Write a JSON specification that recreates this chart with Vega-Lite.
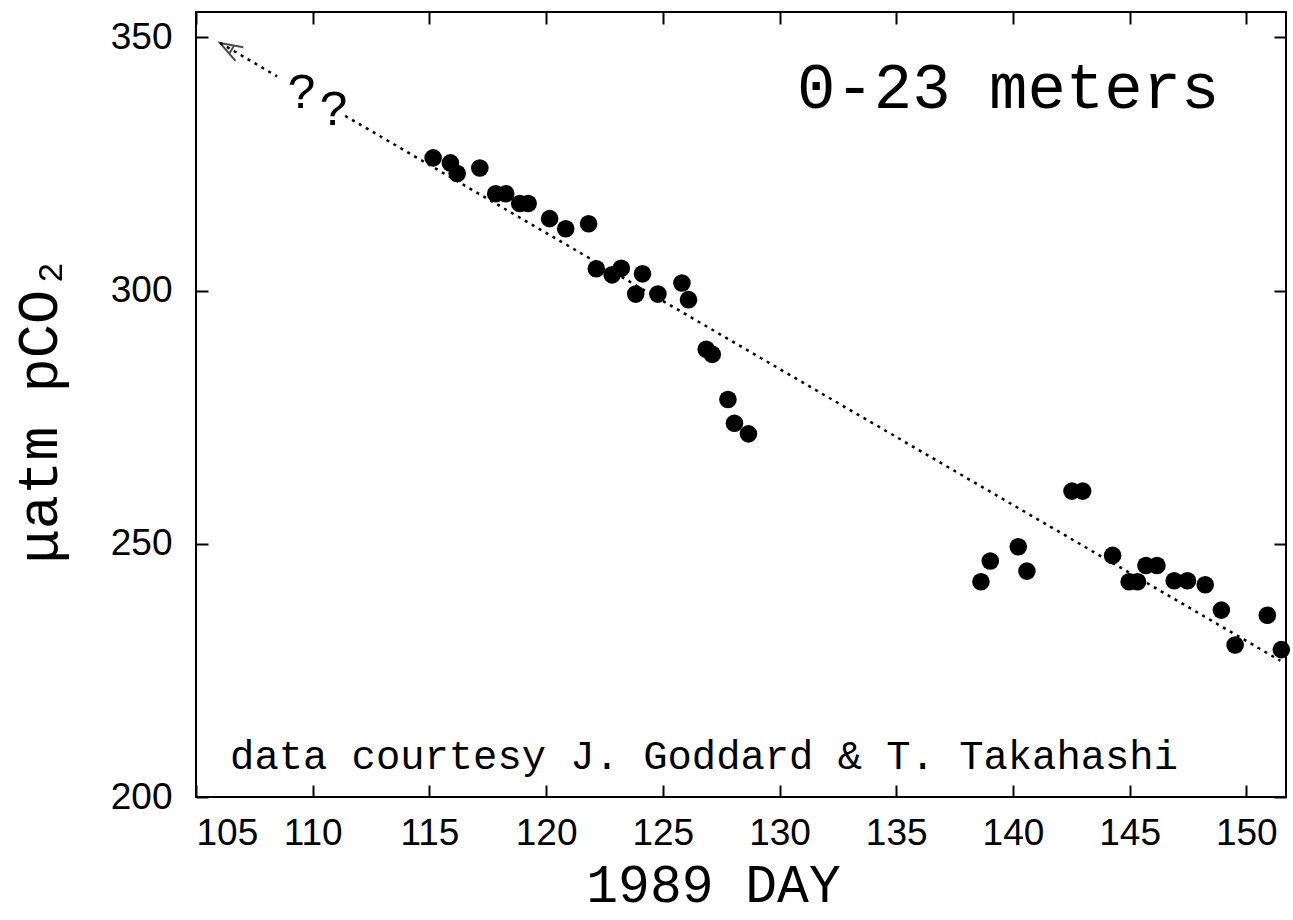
{
  "$schema": "https://vega.github.io/schema/vega-lite/v6.json",
  "width": 1090,
  "height": 785,
  "autosize": "none",
  "padding": {"left": 196, "top": 12, "right": 7, "bottom": 123},
  "background": "white",
  "config": {
    "view": {"stroke": "black", "strokeWidth": 2},
    "axis": {
      "domain": false,
      "grid": false,
      "tickColor": "black",
      "tickWidth": 2,
      "tickSize": -12,
      "labelColor": "black",
      "labelFont": "Liberation Sans",
      "labelFontSize": 37,
      "titleColor": "black",
      "titleFont": "Liberation Mono",
      "titleFontWeight": "normal"
    }
  },
  "datasets": {
    "obs": [
      {"day": 115.16, "pco2": 326.2}, {"day": 115.90, "pco2": 325.2}, {"day": 116.19, "pco2": 323.1},
      {"day": 117.16, "pco2": 324.2}, {"day": 117.84, "pco2": 319.1}, {"day": 118.27, "pco2": 319.1},
      {"day": 118.87, "pco2": 317.2}, {"day": 119.23, "pco2": 317.2}, {"day": 120.15, "pco2": 314.2},
      {"day": 120.84, "pco2": 312.2}, {"day": 121.82, "pco2": 313.2}, {"day": 122.15, "pco2": 304.3},
      {"day": 122.83, "pco2": 303.1}, {"day": 123.22, "pco2": 304.4}, {"day": 124.13, "pco2": 303.3},
      {"day": 123.84, "pco2": 299.3}, {"day": 124.79, "pco2": 299.3}, {"day": 125.82, "pco2": 301.5},
      {"day": 126.10, "pco2": 298.2}, {"day": 126.86, "pco2": 288.4}, {"day": 127.12, "pco2": 287.4},
      {"day": 127.79, "pco2": 278.5}, {"day": 128.07, "pco2": 273.8}, {"day": 128.67, "pco2": 271.7},
      {"day": 138.63, "pco2": 242.5}, {"day": 139.03, "pco2": 246.6}, {"day": 140.23, "pco2": 249.4},
      {"day": 140.60, "pco2": 244.6}, {"day": 142.53, "pco2": 260.4}, {"day": 142.99, "pco2": 260.4},
      {"day": 144.27, "pco2": 247.7}, {"day": 144.98, "pco2": 242.5}, {"day": 145.34, "pco2": 242.5},
      {"day": 145.70, "pco2": 245.7}, {"day": 146.17, "pco2": 245.7}, {"day": 146.91, "pco2": 242.7},
      {"day": 147.48, "pco2": 242.7}, {"day": 148.24, "pco2": 241.9}, {"day": 148.93, "pco2": 236.9},
      {"day": 149.52, "pco2": 230.0}, {"day": 150.90, "pco2": 235.9}, {"day": 151.50, "pco2": 229.1}
    ],
    "trend": [
      {"seg": 1, "day": 106.03, "pco2": 348.9},
      {"seg": 1, "day": 108.47, "pco2": 342.3},
      {"seg": 2, "day": 111.39, "pco2": 334.5},
      {"seg": 2, "day": 151.46, "pco2": 226.9}
    ],
    "tip": [{"day": 106.03, "pco2": 348.9}],
    "depth": [{"day": 148.85, "pco2": 336.0, "label": "0-23 meters"}],
    "credit": [{"day": 106.46, "pco2": 205.6, "label": "data courtesy J. Goddard & T. Takahashi"}],
    "qmarks": [
      {"day": 109.55, "pco2": 336.0, "label": "?"},
      {"day": 110.92, "pco2": 332.7, "label": "?"}
    ]
  },
  "layer": [
    {
      "data": {"name": "obs"},
      "mark": {"type": "circle", "size": 310, "color": "black", "opacity": 1},
      "encoding": {
        "x": {
          "field": "day", "type": "quantitative",
          "scale": {"domain": [105, 151.7], "nice": false, "zero": false},
          "axis": {
            "orient": "bottom",
            "values": [105, 110, 115, 120, 125, 130, 135, 140, 145, 150],
            "labelPadding": 30,
            "title": "1989 DAY",
            "titleFontSize": 53,
            "titleAlign": "center",
            "titleBaseline": "alphabetic",
            "titleX": 517,
            "titleY": 104
          }
        },
        "y": {
          "field": "pco2", "type": "quantitative",
          "scale": {"domain": [200, 355], "nice": false, "zero": false},
          "axis": {
            "orient": "left",
            "values": [200, 250, 300, 350],
            "labelPadding": 36,
            "title": "μatm pCO₂",
            "titleFontSize": 57,
            "titleAngle": 270,
            "titleAlign": "center",
            "titleBaseline": "alphabetic",
            "titleX": -140,
            "titleY": 397
          }
        }
      }
    },
    {
      "data": {"name": "trend"},
      "mark": {"type": "line", "color": "black", "strokeWidth": 2.5, "strokeDash": [3, 5]},
      "encoding": {
        "x": {
          "field": "day", "type": "quantitative",
          "scale": {"domain": [105, 151.7], "nice": false, "zero": false},
          "axis": {"orient": "top", "values": [105, 110, 115, 120, 125, 130, 135, 140, 145, 150], "labels": false, "title": null}
        },
        "y": {
          "field": "pco2", "type": "quantitative",
          "scale": {"domain": [200, 355], "nice": false, "zero": false},
          "axis": {"orient": "right", "values": [200, 250, 300, 350], "labels": false, "title": null}
        },
        "detail": {"field": "seg", "type": "nominal"}
      }
    },
    {
      "data": {"name": "tip"},
      "mark": {"type": "point", "shape": "M-0.35,1 L0,0 L0.35,1 M-0.2,0.6 L0.2,0.6", "size": 2000, "angle": 300, "filled": false, "stroke": "black", "strokeWidth": 2},
      "encoding": {
        "x": {"field": "day", "type": "quantitative", "scale": {"domain": [105, 151.7], "nice": false, "zero": false}, "axis": null},
        "y": {"field": "pco2", "type": "quantitative", "scale": {"domain": [200, 355], "nice": false, "zero": false}, "axis": null}
      }
    },
    {
      "data": {"name": "depth"},
      "mark": {"type": "text", "font": "Liberation Mono", "fontSize": 64, "align": "right", "baseline": "alphabetic", "color": "black"},
      "encoding": {
        "x": {"field": "day", "type": "quantitative", "scale": {"domain": [105, 151.7], "nice": false, "zero": false}, "axis": null},
        "y": {"field": "pco2", "type": "quantitative", "scale": {"domain": [200, 355], "nice": false, "zero": false}, "axis": null},
        "text": {"field": "label"}
      }
    },
    {
      "data": {"name": "credit"},
      "mark": {"type": "text", "font": "Liberation Mono", "fontSize": 40.5, "align": "left", "baseline": "alphabetic", "color": "black"},
      "encoding": {
        "x": {"field": "day", "type": "quantitative", "scale": {"domain": [105, 151.7], "nice": false, "zero": false}, "axis": null},
        "y": {"field": "pco2", "type": "quantitative", "scale": {"domain": [200, 355], "nice": false, "zero": false}, "axis": null},
        "text": {"field": "label"}
      }
    },
    {
      "data": {"name": "qmarks"},
      "mark": {"type": "text", "font": "Liberation Mono", "fontSize": 50, "align": "center", "baseline": "alphabetic", "color": "black"},
      "encoding": {
        "x": {"field": "day", "type": "quantitative", "scale": {"domain": [105, 151.7], "nice": false, "zero": false}, "axis": null},
        "y": {"field": "pco2", "type": "quantitative", "scale": {"domain": [200, 355], "nice": false, "zero": false}, "axis": null},
        "text": {"field": "label"}
      }
    }
  ],
  "resolve": {"axis": {"x": "independent", "y": "independent"}}
}
